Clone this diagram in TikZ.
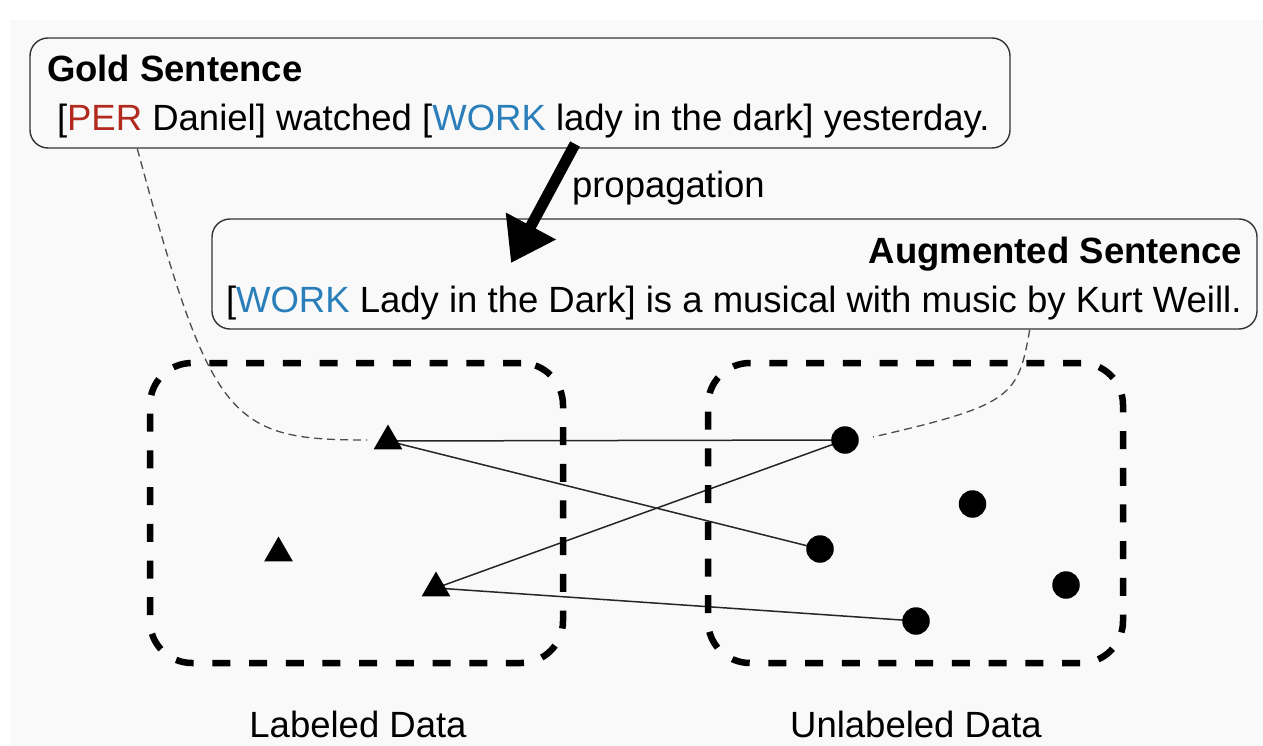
\documentclass[tikz,border=0pt]{standalone}
\usepackage{fontspec}
\setmainfont{Liberation Sans}
\usetikzlibrary{arrows.meta,shapes.geometric,backgrounds}
\definecolor{canvas}{HTML}{F9F9F9}
\definecolor{perred}{HTML}{B22A1E}
\definecolor{workblue}{HTML}{2A7FBA}
\definecolor{edgegray}{HTML}{333333}
\newcommand{\bodysize}{\fontsize{36.5}{42}\selectfont}

\begin{document}
\begin{tikzpicture}[x=1pt,y=-1pt,
  sentbox/.style={draw=edgegray, line width=1.4pt, rounded corners=18pt,
    fill=canvas, inner sep=0pt},
  txt/.style={inner sep=0pt, outer sep=0pt, anchor=base west, font=\bodysize},
  ttl/.style={txt, font=\bodysize\bfseries},
  databox/.style={draw=black, line width=6.5pt, rounded corners=42pt,
    dash pattern=on 18pt off 18.7pt, inner sep=0pt},
  tri/.style={regular polygon, regular polygon sides=3, fill=black,
    minimum size=33pt, inner sep=0pt},
  dot/.style={circle, fill=black, minimum size=27.5pt, inner sep=0pt},
  link/.style={draw=black!85, line width=1.5pt},
  trace/.style={draw=black!70, line width=1.3pt, dash pattern=on 8pt off 5pt},
  push/.style={draw=black, line width=11pt,
    -{Triangle[length=42pt,width=54pt]}}
]
\useasboundingbox (0,0) rectangle (1263,746);

% sentence boxes
\node[sentbox, minimum width=980pt, minimum height=110pt] (gold) at (520,93) {};
\node[sentbox, minimum width=1045pt, minimum height=110pt] (aug) at (734.5,274) {};

\node[ttl] (goldtitle) at (47,82) {Gold Sentence};
\node[txt] (goldsent) at (57,131)
  {[\textcolor{perred}{PER} Daniel] watched [\textcolor{workblue}{WORK} lady in the dark] yesterday.};
\node[ttl, anchor=base east] (augtitle) at (1242,263) {Augmented Sentence};
\node[txt] (augsent) at (226,312)
  {[\textcolor{workblue}{WORK} Lady in the Dark] is a musical with music by Kurt Weill.};

% data pools
\node[databox, minimum width=413pt, minimum height=300pt] (labeled) at (356.5,513) {};
\node[databox, minimum width=415pt, minimum height=300pt] (unlabeled) at (915.5,513) {};

\node[txt, anchor=base] (labname) at (358,737) {Labeled Data};
\node[txt, anchor=base] (unlabname) at (916,737) {Unlabeled Data};

% labeled points
\node[tri] (t1) at (388,441) {};
\node[tri] (t2) at (278.5,553) {};
\node[tri] (t3) at (436,588) {};

% unlabeled points
\node[dot] (c1) at (845,440) {};
\node[dot] (c2) at (972.5,504) {};
\node[dot] (c3) at (820,549) {};
\node[dot] (c4) at (1066,585) {};
\node[dot] (c5) at (916,621) {};

% canvas and the links between the pools, kept behind the points
\begin{scope}[on background layer]
\fill[white] (0,0) rectangle (1263,746);
\fill[canvas] (10,20) rectangle (1263,746);
\draw[link] (t1.center) -- (c1.center);
\draw[link] (t1.center) -- (c3.center);
\draw[link] (t3.center) -- (c1.center);
\draw[link] (t3.center) -- (c5.center);
\end{scope}

% dashed traces from each sentence to its point
\coordinate (goldfoot) at ([xshift=108pt]gold.south west);
\coordinate (augfoot) at ([xshift=-228pt]aug.south east);
\draw[trace] (goldfoot) .. controls (211,422) and (230,440) .. ([xshift=-21pt,yshift=1pt]t1.center);
\draw[trace] (augfoot) .. controls (1018,397) and (1012,405) .. ([xshift=28pt,yshift=3pt]c1.center);

% propagation arrow
\coordinate (propS) at (575,144);
\coordinate (propE) at (511,263);
\draw[push] (propS) -- (propE);
\node[txt] (proplabel) at (572,198) {propagation};
\end{tikzpicture}
\end{document}
